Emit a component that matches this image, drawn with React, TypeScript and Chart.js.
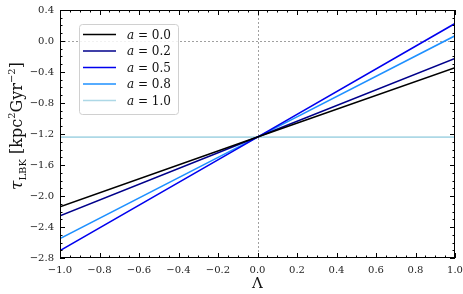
import React, { useEffect, useRef } from "react";
import { Chart, registerables } from "chart.js";

Chart.register(...registerables);

const LAMBDA = [-1, 0, 1];
const A_VALUES = ["0.0", "0.2", "0.5", "0.8", "1.0"];
const TAU_A00 = [-2.14, -1.24, -0.345];
const TAU_A02 = [-2.255, -1.24, -0.225];
const TAU_A05 = [-2.705, -1.24, 0.225];
const TAU_A08 = [-2.55, -1.24, 0.068];
const TAU_A10 = [-1.24, -1.24, -1.24];
const SERIES = [TAU_A00, TAU_A02, TAU_A05, TAU_A08, TAU_A10];
const COLORS = ["#000000", "#00008b", "#0000ee", "#1e90ff", "#add8e6"];
const X_TICKS = { min: -1, max: 1, step: 0.2, minor: 0.05 };
const Y_TICKS = { min: -2.8, max: 0.4, step: 0.4, minor: 0.1 };

const SERIF = "'DejaVu Serif', 'Liberation Serif', serif";

const fmt = (v: number) => {
  const s = v.toFixed(1);
  return s.startsWith("-") ? "\u2212" + s.slice(1) : s;
};

const decorPlugin = {
  id: "decor",
  beforeDatasetsDraw(chart: any) {
    const { ctx, chartArea: a, scales } = chart;
    const x = scales.x, y = scales.y;
    ctx.save();
    ctx.strokeStyle = "#888";
    ctx.lineWidth = 0.8;
    ctx.setLineDash([2, 2]);
    const y0 = Math.round(y.getPixelForValue(0)) + 0.5;
    const x0 = Math.round(x.getPixelForValue(0)) + 0.5;
    ctx.beginPath();
    ctx.moveTo(a.left, y0);
    ctx.lineTo(a.right, y0);
    ctx.moveTo(x0, a.top);
    ctx.lineTo(x0, a.bottom);
    ctx.stroke();
    ctx.restore();
  },
  afterDatasetsDraw(chart: any) {
    const { ctx, chartArea: a, scales } = chart;
    const x = scales.x, y = scales.y;
    ctx.save();
    // frame
    ctx.strokeStyle = "#000";
    ctx.lineWidth = 1;
    ctx.setLineDash([]);
    ctx.strokeRect(a.left + 0.5, a.top + 0.5, a.right - a.left - 1, a.bottom - a.top - 1);
    // ticks
    ctx.beginPath();
    const nx = Math.round((X_TICKS.max - X_TICKS.min) / X_TICKS.minor);
    for (let i = 0; i <= nx; i++) {
      const v = X_TICKS.min + i * X_TICKS.minor;
      const major = i % Math.round(X_TICKS.step / X_TICKS.minor) === 0;
      const len = major ? 5 : 2.5;
      const px = Math.round(x.getPixelForValue(v)) + 0.5;
      ctx.moveTo(px, a.bottom);
      ctx.lineTo(px, a.bottom - len);
      ctx.moveTo(px, a.top);
      ctx.lineTo(px, a.top + len);
    }
    const ny = Math.round((Y_TICKS.max - Y_TICKS.min) / Y_TICKS.minor);
    for (let i = 0; i <= ny; i++) {
      const v = Y_TICKS.min + i * Y_TICKS.minor;
      const major = i % Math.round(Y_TICKS.step / Y_TICKS.minor) === 0;
      const len = major ? 5 : 2.5;
      const py = Math.round(y.getPixelForValue(v)) + 0.5;
      ctx.moveTo(a.left, py);
      ctx.lineTo(a.left + len, py);
      ctx.moveTo(a.right, py);
      ctx.lineTo(a.right - len, py);
    }
    ctx.stroke();

    // legend
    const lx = a.left + 19, ly = a.top + 14, lw = 99, lh = 90;
    ctx.fillStyle = "rgba(255,255,255,0.85)";
    ctx.strokeStyle = "#d0d0d0";
    ctx.lineWidth = 1;
    ctx.beginPath();
    (ctx as any).roundRect(lx + 0.5, ly + 0.5, lw, lh, 3);
    ctx.fill();
    ctx.stroke();
    const rowH = 16.5;
    A_VALUES.forEach((av, i) => {
      const cy = ly + 10.5 + i * rowH;
      ctx.strokeStyle = COLORS[i];
      ctx.lineWidth = 1.6;
      ctx.beginPath();
      ctx.moveTo(lx + 4, cy);
      ctx.lineTo(lx + 37, cy);
      ctx.stroke();
      ctx.fillStyle = "#111";
      ctx.textBaseline = "middle";
      ctx.textAlign = "left";
      ctx.font = `italic 12px ${SERIF}`;
      const tx = lx + 48;
      ctx.fillText("a", tx, cy + 1);
      const w = ctx.measureText("a").width;
      ctx.font = `12px ${SERIF}`;
      ctx.fillText(" = " + av, tx + w, cy + 1);
    });
    ctx.restore();
  },
  afterDraw(chart: any) {
    const { ctx, chartArea: a } = chart;
    ctx.save();
    ctx.fillStyle = "#111";
    // x label
    ctx.font = `15px ${SERIF}`;
    ctx.textAlign = "center";
    ctx.textBaseline = "middle";
    ctx.fillText("\u039B", (a.left + a.right) / 2, 284);
    // y label
    const parts: [string, string, number][] = [
      ["\u03C4", `italic 17px ${SERIF}`, 0],
      ["LBK", `10px ${SERIF}`, 4],
      [" [kpc", `16px ${SERIF}`, 0],
      ["2", `10px ${SERIF}`, -7],
      ["Gyr", `16px ${SERIF}`, 0],
      ["\u22122", `10px ${SERIF}`, -7],
      ["]", `16px ${SERIF}`, 0],
    ];
    let total = 0;
    parts.forEach(([t, f]) => {
      ctx.font = f;
      total += ctx.measureText(t).width;
    });
    ctx.translate(17, (a.top + a.bottom) / 2 - 8);
    ctx.rotate(-Math.PI / 2);
    ctx.textAlign = "left";
    ctx.textBaseline = "alphabetic";
    let cx = -total / 2;
    parts.forEach(([t, f, dy]) => {
      ctx.font = f;
      ctx.fillText(t, cx, 5 + dy);
      cx += ctx.measureText(t).width;
    });
    ctx.restore();
  },
};

export default function App() {
  const ref = useRef<HTMLCanvasElement>(null);
  useEffect(() => {
    document.body.style.margin = "0";
    const chart = new Chart(ref.current!, {
      type: "line",
      data: {
        datasets: SERIES.map((s, i) => ({
          label: "a = " + A_VALUES[i],
          data: LAMBDA.map((l, j) => ({ x: l, y: s[j] })),
          borderColor: COLORS[i],
          borderWidth: 1.6,
          pointRadius: 0,
          fill: false,
          tension: 0,
        })),
      },
      options: {
        animation: false,
        responsive: false,
        layout: { padding: { top: 10, right: 8, left: 0, bottom: 0 } },
        plugins: { legend: { display: false }, tooltip: { enabled: false } },
        scales: {
          x: {
            type: "linear",
            min: X_TICKS.min,
            max: X_TICKS.max,
            border: { display: false },
            grid: { display: false, drawTicks: false },
            ticks: {
              stepSize: X_TICKS.step,
              padding: 6,
              color: "#222",
              font: { family: SERIF, size: 10 },
              maxRotation: 0,
              callback: (v: any) => fmt(Number(v)),
            },
            afterFit: (s: any) => {
              s.height = 36;
              s.paddingLeft = 0;
              s.paddingRight = 0;
            },
          },
          y: {
            type: "linear",
            min: Y_TICKS.min,
            max: Y_TICKS.max,
            border: { display: false },
            grid: { display: false, drawTicks: false },
            ticks: {
              stepSize: Y_TICKS.step,
              padding: 6,
              color: "#222",
              font: { family: SERIF, size: 10 },
              callback: (v: any) => fmt(Number(v)),
            },
            afterFit: (s: any) => {
              s.width = 60;
              s.paddingTop = 0;
              s.paddingBottom = 0;
            },
          },
        },
      },
      plugins: [decorPlugin],
    } as any);
    return () => chart.destroy();
  }, []);
  return (
    <div style={{ position: "fixed", left: 0, top: 0, width: 463, height: 294 }}>
      <canvas ref={ref} width={463} height={294} style={{ display: "block" }} />
    </div>
  );
}
